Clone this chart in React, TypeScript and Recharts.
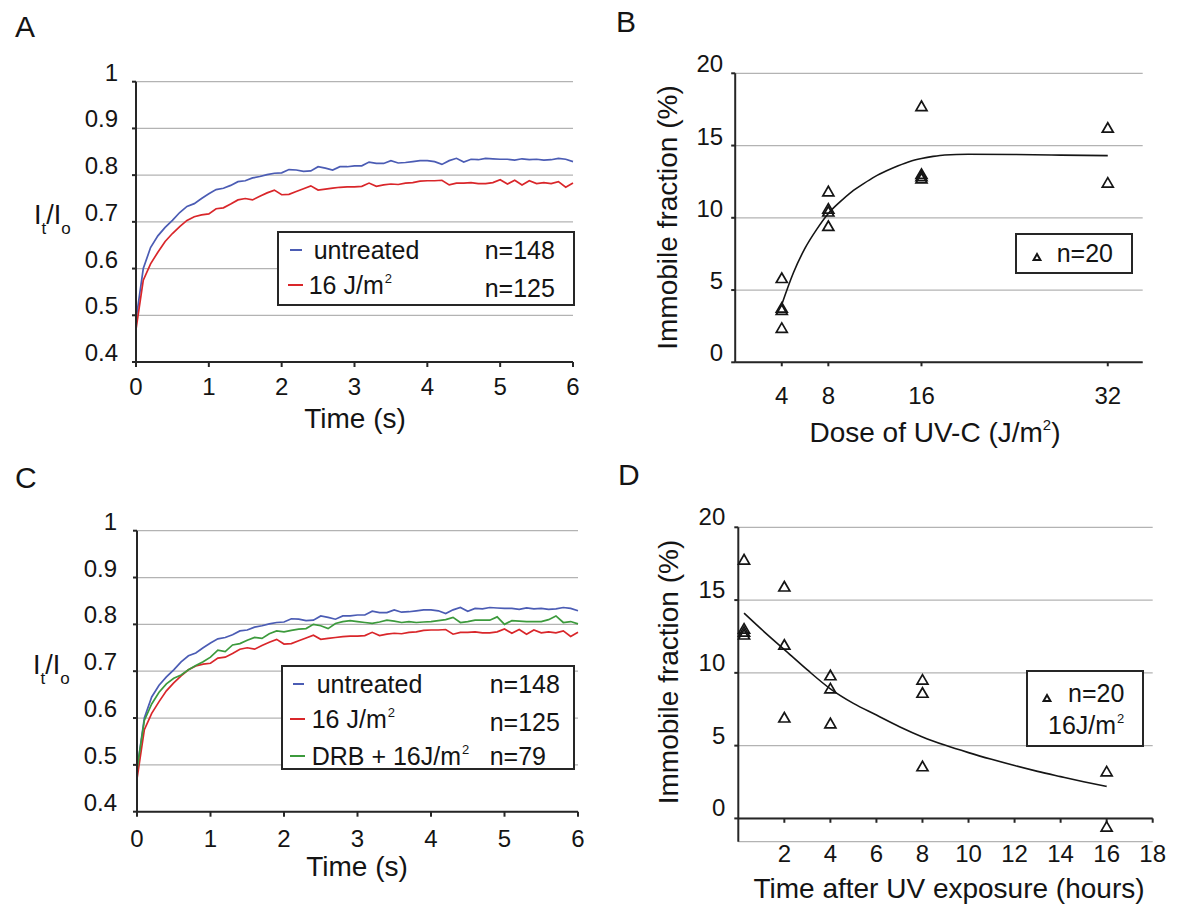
import React from 'react';
import {
  LineChart,
  Line,
  XAxis,
  YAxis,
  CartesianGrid,
  Legend,
  ComposedChart,
  Scatter,
  ReferenceLine,
} from 'recharts';

const FONT = '"Liberation Sans", Arial, Helvetica, sans-serif';
const TEXT = '#141414';
const AXIS = '#262626';
const GRID = '#b3b3b3';
const BLUE = '#4b5cb4';
const RED = '#d9262a';
const GREEN = '#3c9a3c';

// ---------- Panels A & C : recovery curves ----------
const timeS = [
  0, 0.1, 0.2, 0.3, 0.4, 0.5, 0.6, 0.7, 0.8, 0.9,
  1, 1.1, 1.2, 1.3, 1.4, 1.5, 1.6, 1.7, 1.8, 1.9,
  2, 2.1, 2.2, 2.3, 2.4, 2.5, 2.6, 2.7, 2.8, 2.9,
  3, 3.1, 3.2, 3.3, 3.4, 3.5, 3.6, 3.7, 3.8, 3.9,
  4, 4.1, 4.2, 4.3, 4.4, 4.5, 4.6, 4.7, 4.8, 4.9,
  5, 5.1, 5.2, 5.3, 5.4, 5.5, 5.6, 5.7, 5.8, 5.9,
  6,
];
const untreated = [
  0.49, 0.6, 0.645, 0.67, 0.688, 0.703, 0.72, 0.733, 0.739, 0.75,
  0.76, 0.769, 0.772, 0.778, 0.786, 0.788, 0.794, 0.797, 0.801, 0.804,
  0.805, 0.812, 0.811, 0.808, 0.809, 0.818, 0.815, 0.811, 0.818, 0.818,
  0.82, 0.82, 0.828, 0.825, 0.825, 0.831, 0.826, 0.827, 0.829, 0.831,
  0.831, 0.829, 0.823, 0.831, 0.836, 0.828, 0.834, 0.833, 0.836, 0.835,
  0.834, 0.834, 0.832, 0.835, 0.833, 0.834, 0.832, 0.833, 0.836, 0.834,
  0.829,
];
const uv16 = [
  0.47, 0.575, 0.61, 0.635, 0.658, 0.675, 0.69, 0.703, 0.711, 0.715,
  0.717, 0.728, 0.73, 0.738, 0.747, 0.75, 0.747, 0.755, 0.762, 0.768,
  0.758, 0.759, 0.765, 0.771, 0.777, 0.768, 0.77, 0.772, 0.774, 0.775,
  0.775, 0.776, 0.783, 0.776, 0.779, 0.781, 0.78, 0.783, 0.784, 0.787,
  0.788, 0.788, 0.789, 0.779, 0.783, 0.783, 0.784, 0.782, 0.782, 0.784,
  0.79, 0.781, 0.789, 0.779, 0.788, 0.782, 0.784, 0.782, 0.786, 0.774,
  0.783,
];
const drbUv16 = [
  0.49, 0.595, 0.63, 0.655, 0.673, 0.685, 0.692, 0.703, 0.712, 0.72,
  0.73, 0.745, 0.742, 0.756, 0.759, 0.766, 0.772, 0.77, 0.78, 0.786,
  0.784, 0.787, 0.79, 0.791, 0.8, 0.797, 0.791, 0.802, 0.806, 0.808,
  0.806, 0.804, 0.802, 0.805, 0.809, 0.807, 0.804, 0.806, 0.804, 0.805,
  0.806, 0.808, 0.81, 0.815, 0.804, 0.806, 0.809, 0.809, 0.809, 0.816,
  0.8, 0.808, 0.807, 0.806, 0.806, 0.806, 0.81, 0.818, 0.804, 0.806,
  0.801,
];
const recoveryTicksX = [0, 1, 2, 3, 4, 5, 6];
const recoveryTicksY = [0.4, 0.5, 0.6, 0.7, 0.8, 0.9, 1];

const seriesKeys = ['untreated', 'uv16', 'drb'];
const seriesColors = [BLUE, RED, GREEN];
const seriesLabels = ['untreated', '16 J/m', 'DRB + 16J/m'];
const seriesSup = ['', '2', '2'];
const seriesCounts = ['n=148', 'n=125', 'n=79'];

// ---------- Panel B : dose response ----------
const doseB = [4, 4, 4, 4, 8, 8, 8, 8, 16, 16, 16, 16, 32, 32];
const immobileB = [5.8, 3.75, 3.6, 2.35, 11.8, 10.6, 10.4, 9.4, 17.7, 13.0, 12.85, 12.7, 16.2, 12.4];
const fitDoseB = [4, 5, 6, 7, 8, 9, 10, 11, 12, 13, 14, 15, 16, 17, 18, 20, 24, 28, 32];
const fitImmobileB = [4.0, 6.2, 7.9, 9.2, 10.3, 11.1, 11.8, 12.35, 12.85, 13.25, 13.6, 13.9, 14.1, 14.25, 14.35, 14.4, 14.38, 14.34, 14.3];
const doseTicksB = [4, 8, 16, 32];
const immobileTicks = [0, 5, 10, 15, 20];

// ---------- Panel D : time course ----------
const hoursD = [0.25, 0.25, 0.25, 0.25, 2, 2, 2, 4, 4, 4, 8, 8, 8, 16, 16];
const immobileD = [17.75, 13.0, 12.8, 12.6, 15.9, 11.9, 6.9, 9.8, 8.9, 6.5, 9.5, 8.6, 3.55, 3.2, -0.6];
const fitHoursD = [0.25, 1, 2, 3, 4, 5, 6, 7, 8, 9, 10, 11, 12, 13, 14, 15, 16];
const fitImmobileD = [14.1, 13.0, 11.6, 10.2, 8.9, 7.9, 7.1, 6.3, 5.6, 5.02, 4.52, 4.06, 3.63, 3.23, 2.87, 2.52, 2.2];
const hoursTicksD = [2, 4, 6, 8, 10, 12, 14, 16, 18];

const recoveryData = timeS.map((t, i) => ({
  t,
  untreated: untreated[i],
  uv16: uv16[i],
  drb: drbUv16[i],
}));
const pointsB = doseB.map((x, i) => ({ x, y: immobileB[i] }));
const fitB = fitDoseB.map((x, i) => ({ x, y: fitImmobileB[i] }));
const pointsD = hoursD.map((x, i) => ({ x, y: immobileD[i] }));
const fitD = fitHoursD.map((x, i) => ({ x, y: fitImmobileD[i] }));

// ---------- shared pieces ----------
const makeXTick = (fs: number) => (props: any) => {
  const { x, y, payload } = props;
  return (
    <text x={x} y={y + 17} textAnchor="middle" fontSize={fs} fontFamily={FONT} fill={TEXT}>
      {String(payload.value)}
    </text>
  );
};
const makeYTick = (fs: number, shift: number) => (props: any) => {
  const { x, y, payload } = props;
  return (
    <text x={x} y={y + shift} textAnchor="end" fontSize={fs} fontFamily={FONT} fill={TEXT}>
      {String(payload.value)}
    </text>
  );
};

const Triangle = ({ cx, cy, s = 1, sw = 1.7 }: any) => (
  <path
    d={`M${cx},${cy - 5.5 * s} L${cx + 5.5 * s},${cy + 4 * s} L${cx - 5.5 * s},${cy + 4 * s} Z`}
    fill="none"
    stroke="#151515"
    strokeWidth={sw}
    strokeLinejoin="miter"
  />
);

type RowGeom = { y: number; ny: number; dashX: number; dashW: number; textX: number };

const RecoveryLegend = ({ count, w, h, rows, nX }: { count: number; w: number; h: number; rows: RowGeom[]; nX: number }) => (
  <div
    style={{
      position: 'relative',
      width: w,
      height: h,
      border: `2px solid ${AXIS}`,
      boxSizing: 'border-box',
      background: '#fff',
      fontFamily: FONT,
      fontSize: 25,
      color: TEXT,
    }}
  >
    {seriesKeys.slice(0, count).map((k, i) => {
      const r = rows[i];
      return (
        <React.Fragment key={k}>
          <div
            style={{
              position: 'absolute',
              left: r.dashX - 2,
              top: r.y - 2 - 1.2,
              width: r.dashW,
              height: 2.4,
              background: seriesColors[i],
            }}
          />
          <div style={{ position: 'absolute', left: r.textX - 2, top: r.y - 2 - 15, lineHeight: '30px', whiteSpace: 'nowrap' }}>
            {seriesLabels[i]}
            {seriesSup[i] ? (
              <span style={{ fontSize: 13, position: 'relative', top: -11, marginLeft: 1 }}>{seriesSup[i]}</span>
            ) : null}
          </div>
          <div style={{ position: 'absolute', left: nX - 2, top: r.ny - 2 - 15, lineHeight: '30px', whiteSpace: 'nowrap' }}>
            {seriesCounts[i]}
          </div>
        </React.Fragment>
      );
    })}
  </div>
);

const TriangleLegend = ({ w, h, tri, nPos, extra }: any) => (
  <div
    style={{
      position: 'relative',
      width: w,
      height: h,
      border: `2px solid ${AXIS}`,
      boxSizing: 'border-box',
      background: '#fff',
      fontFamily: FONT,
      fontSize: 25,
      color: TEXT,
    }}
  >
    <svg width={16} height={14} style={{ position: 'absolute', left: tri[0] - 2 - 8, top: tri[1] - 2 - 7 }}>
      <Triangle cx={8} cy={7.5} s={0.62} sw={2} />
    </svg>
    <div style={{ position: 'absolute', left: nPos[0] - 2, top: nPos[1] - 2 - 15, lineHeight: '30px', whiteSpace: 'nowrap' }}>n=20</div>
    {extra ? (
      <div style={{ position: 'absolute', left: extra[0] - 2, top: extra[1] - 2 - 15, lineHeight: '30px', whiteSpace: 'nowrap' }}>
        16J/m<span style={{ fontSize: 13, position: 'relative', top: -11, marginLeft: 1 }}>2</span>
      </div>
    ) : null}
  </div>
);

const legendPlacement = { layout: 'vertical' as const, align: 'center' as const, verticalAlign: 'middle' as const };

// ---------- Recovery chart (A / C) ----------
const RecoveryChart = ({ count, width, height, margin, xTickMargin, yTickMargin, legendBox, legendRows, nX }: any) => (
  <LineChart width={width} height={height} data={recoveryData} margin={margin}>
    <CartesianGrid horizontal vertical={false} stroke={GRID} strokeWidth={1.2} />
    <XAxis
      type="number"
      dataKey="t"
      domain={[0, 6]}
      ticks={recoveryTicksX}
      height={30}
      stroke={AXIS}
      strokeWidth={2}
      tickSize={5}
      tickMargin={xTickMargin}
      tick={makeXTick(24)}
    />
    <YAxis
      type="number"
      domain={[0.4, 1]}
      ticks={recoveryTicksY}
      width={60}
      stroke={AXIS}
      strokeWidth={2}
      tickSize={4}
      tickMargin={yTickMargin}
      tick={makeYTick(24, -1)}
    />
    {seriesKeys.slice(0, count).map((k, i) => (
      <Line
        key={k}
        type="linear"
        dataKey={k}
        name={seriesLabels[i]}
        stroke={seriesColors[i]}
        strokeWidth={1.7}
        dot={false}
        isAnimationActive={false}
      />
    ))}
    <Legend
      {...legendPlacement}
      wrapperStyle={{ left: legendBox.left, top: legendBox.top, width: legendBox.w, height: legendBox.h }}
      content={() => <RecoveryLegend count={count} w={legendBox.w} h={legendBox.h} rows={legendRows} nX={nX} />}
    />
  </LineChart>
);

const RatioLabel = ({ x, y }: { x: number; y: number }) => (
  <text x={x} y={y} fontSize={27}>
    I<tspan fontSize={17} dy={10}>t</tspan>
    <tspan dy={-10}>/I</tspan>
    <tspan fontSize={17} dy={10}>o</tspan>
  </text>
);

export default function App() {
  return (
    <div
      style={{
        position: 'absolute',
        left: 0,
        top: 0,
        width: 1178,
        height: 906,
        background: '#fff',
        overflow: 'hidden',
        fontFamily: FONT,
      }}
    >
      {/* Panel A */}
      <div style={{ position: 'absolute', left: 0, top: 0 }}>
        <RecoveryChart
          count={2}
          width={590}
          height={450}
          margin={{ top: 81.7, right: 17, bottom: 58, left: 76 }}
          xTickMargin={11}
          yTickMargin={14}
          legendBox={{ left: 276.7, top: 231, w: 298, h: 75 }}
          legendRows={[
            { y: 19, ny: 19, dashX: 13, dashW: 12, textX: 37 },
            { y: 54, ny: 57, dashX: 11, dashW: 15, textX: 32 },
          ]}
          nX={208}
        />
      </div>

      {/* Panel C */}
      <div style={{ position: 'absolute', left: 0, top: 450 }}>
        <RecoveryChart
          count={3}
          width={590}
          height={456}
          margin={{ top: 80.7, right: 12, bottom: 64.3, left: 77 }}
          xTickMargin={13}
          yTickMargin={16}
          legendBox={{ left: 280.7, top: 215, w: 294, h: 105 }}
          legendRows={[
            { y: 19, ny: 19, dashX: 12, dashW: 11, textX: 36 },
            { y: 54, ny: 57, dashX: 9, dashW: 15, textX: 31 },
            { y: 91, ny: 91, dashX: 9, dashW: 15, textX: 31 },
          ]}
          nX={209}
        />
      </div>

      {/* Panel B */}
      <div style={{ position: 'absolute', left: 590, top: 0 }}>
        <ComposedChart width={588} height={450} margin={{ top: 73.3, right: 35.3, bottom: 57.7, left: 85.2 }}>
          <CartesianGrid horizontal vertical={false} stroke={GRID} strokeWidth={1.2} />
          <XAxis
            type="number"
            dataKey="x"
            domain={[0, 35]}
            ticks={doseTicksB}
            height={30}
            stroke={AXIS}
            strokeWidth={2}
            tickSize={4}
            tickMargin={21}
            tick={makeXTick(24)}
          />
          <YAxis
            type="number"
            dataKey="y"
            domain={[0, 20]}
            ticks={immobileTicks}
            width={60}
            stroke={AXIS}
            strokeWidth={2}
            tickSize={4}
            tickMargin={8}
            tick={makeYTick(24, -1)}
          />
          <Line
            data={fitB}
            dataKey="y"
            type="monotone"
            stroke="#151515"
            strokeWidth={1.6}
            dot={false}
            isAnimationActive={false}
          />
          <Scatter
            data={pointsB}
            dataKey="y"
            isAnimationActive={false}
            shape={(p: any) => <Triangle cx={p.cx} cy={p.cy} />}
          />
          <Legend
            {...legendPlacement}
            wrapperStyle={{ left: 425, top: 233.3, width: 118, height: 41 }}
            content={() => <TriangleLegend w={118} h={41} tri={[21.7, 23.4]} nPos={[41.7, 20]} />}
          />
        </ComposedChart>
      </div>

      {/* Panel D */}
      <div style={{ position: 'absolute', left: 590, top: 450 }}>
        <ComposedChart width={588} height={456} margin={{ top: 77.3, right: 25.3, bottom: 34.3, left: 88.3 }}>
          <CartesianGrid horizontal vertical={false} stroke={GRID} strokeWidth={1.2} />
          <XAxis
            type="number"
            dataKey="x"
            domain={[0, 18]}
            ticks={hoursTicksD}
            height={30}
            axisLine={false}
            tickLine={false}
            tickSize={0}
            tickMargin={3}
            tick={makeXTick(24)}
          />
          <YAxis
            type="number"
            dataKey="y"
            domain={[-1.6, 20]}
            ticks={immobileTicks}
            width={60}
            stroke={AXIS}
            strokeWidth={2}
            tickSize={4}
            tickMargin={9}
            tick={makeYTick(24, -2)}
          />
          <ReferenceLine y={0} stroke={AXIS} strokeWidth={2} />
          {hoursTicksD.map((h) => (
            <ReferenceLine
              key={h}
              segment={[
                { x: h, y: 0 },
                { x: h, y: -0.3 },
              ]}
              stroke={AXIS}
              strokeWidth={2}
            />
          ))}
          <Line
            data={fitD}
            dataKey="y"
            type="monotone"
            stroke="#151515"
            strokeWidth={1.6}
            dot={false}
            isAnimationActive={false}
          />
          <Scatter
            data={pointsD}
            dataKey="y"
            isAnimationActive={false}
            shape={(p: any) => <Triangle cx={p.cx} cy={p.cy} />}
          />
          <Legend
            {...legendPlacement}
            wrapperStyle={{ left: 436, top: 220, width: 118, height: 77 }}
            content={() => <TriangleLegend w={118} h={77} tri={[20.7, 27.7]} nPos={[42, 23.3]} extra={[22, 55]} />}
          />
        </ComposedChart>
      </div>

      {/* Titles and panel letters */}
      <svg
        width={1178}
        height={906}
        style={{ position: 'absolute', left: 0, top: 0, pointerEvents: 'none' }}
        fontFamily={FONT}
        fill={TEXT}
      >
        <text x={15} y={37} fontSize={30}>A</text>
        <text x={616} y={32} fontSize={30}>B</text>
        <text x={15} y={488} fontSize={30}>C</text>
        <text x={618} y={485} fontSize={30}>D</text>

        <RatioLabel x={34} y={224} />
        <RatioLabel x={33} y={673.5} />

        <text x={355} y={428} fontSize={28} textAnchor="middle">Time (s)</text>
        <text x={357} y={876} fontSize={28} textAnchor="middle">Time (s)</text>

        <text x={935} y={442} fontSize={28} textAnchor="middle">
          Dose of UV-C (J/m<tspan fontSize={15} dy={-12}>2</tspan>
          <tspan dy={12}>)</tspan>
        </text>
        <text x={949} y={898} fontSize={28} textAnchor="middle">Time after UV exposure (hours)</text>

        <text
          x={667.5}
          y={217.5}
          fontSize={28}
          textAnchor="middle"
          dominantBaseline="central"
          transform="rotate(-90 667.5 217.5)"
        >
          Immobile fraction (%)
        </text>
        <text
          x={668}
          y={672}
          fontSize={28}
          textAnchor="middle"
          dominantBaseline="central"
          transform="rotate(-90 668 672)"
        >
          Immobile fraction (%)
        </text>
      </svg>
    </div>
  );
}
